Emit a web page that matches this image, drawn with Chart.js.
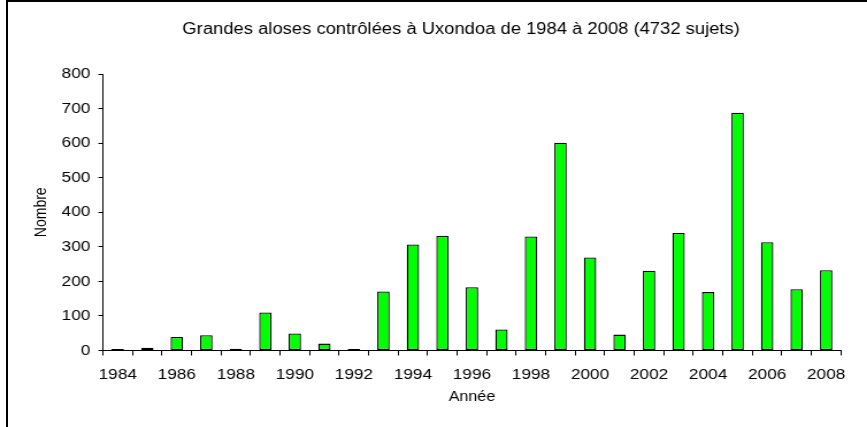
<!DOCTYPE html>
<html>
<head>
<meta charset="utf-8">
<script src="https://cdn.jsdelivr.net/npm/chart.js@4.4.1/dist/chart.umd.min.js"></script>
<style>
  html, body { margin: 0; padding: 0; background: #fff; overflow: hidden; }
  #cadre { position: absolute; left: 6px; top: 0; width: 861px; height: 427px;
           border-left: 2px solid #000; border-top: 2px solid #000; box-sizing: border-box; }
  /* le graphique d'origine est étiré horizontalement */
  #zone { position: absolute; left: 0; top: 0; transform: scaleX(1.1499); transform-origin: 0 0; }
</style>
</head>
<body>
<div id="cadre"></div>
<div id="zone"><canvas id="graphique" width="754" height="427"></canvas></div>
<script>
// données
const TITRE = 'Grandes aloses contrôlées à Uxondoa de 1984 à 2008 (4732 sujets)';
const annees = ['1984', '1985', '1986', '1987', '1988', '1989', '1990', '1991', '1992',
  '1993', '1994', '1995', '1996', '1997', '1998', '1999', '2000', '2001', '2002',
  '2003', '2004', '2005', '2006', '2007', '2008'];
const effectifs = [4, 8, 39, 44, 5, 110, 49, 20, 4, 171, 307, 332, 183, 61, 330, 601,
  269, 46, 231, 340, 169, 688, 313, 177, 232];
const graduationsY = [0, 100, 200, 300, 400, 500, 600, 700, 800];

const POLICE = '"Liberation Sans", Arial, sans-serif';

// titre dessiné à la main (centré comme dans l'original)
const titrePlugin = {
    id: 'titre',
    afterDraw(chart) {
        const ctx = chart.ctx;
        ctx.save();
        ctx.font = '16px ' + POLICE;
        ctx.fillStyle = '#000';
        ctx.textAlign = 'center';
        ctx.textBaseline = 'middle';
        ctx.fillText(TITRE, 401, 30);
        ctx.restore();
    }
};

const ctx = document.getElementById('graphique').getContext('2d');
new Chart(ctx, {
    type: 'bar',
    data: {
        labels: annees,
        datasets: [{
            label: 'Nombre',
            data: effectifs,
            backgroundColor: '#00ff00',
            borderColor: '#000',
            borderWidth: 1.3,
            borderSkipped: false,
            categoryPercentage: 1,
            barPercentage: 0.42
        }]
    },
    options: {
        responsive: false,
        animation: false,
        layout: { padding: { left: 24, right: 22.7, top: 74, bottom: 0 } },
        plugins: {
            legend: { display: false },
            tooltip: { enabled: false },
            title: { display: false }
        },
        scales: {
            x: {
                grid: { offset: true, drawOnChartArea: false, color: '#000', tickLength: 5 },
                border: { display: true, color: '#000', width: 1 },
                ticks: {
                    autoSkip: false, maxRotation: 0, padding: 10, color: '#000',
                    font: { family: POLICE, size: 15 },
                    callback: (v, i) => (i % 2 === 0 ? annees[i] : '')
                },
                title: {
                    display: true, text: 'Année', color: '#000',
                    font: { family: POLICE, size: 14 },
                    padding: { top: 0, bottom: 21 }
                },
                afterFit: s => { s.height = 76.5; }
            },
            y: {
                min: graduationsY[0],
                max: graduationsY[graduationsY.length - 1],
                grid: { drawOnChartArea: false, color: '#000', tickLength: 4 },
                border: { display: true, color: '#000', width: 1 },
                ticks: {
                    stepSize: graduationsY[1] - graduationsY[0], padding: 7, color: '#000',
                    font: { family: POLICE, size: 15 }
                },
                title: {
                    display: true, text: 'Nombre', color: '#000',
                    font: { family: POLICE, size: 14 },
                    padding: { top: 3.3, bottom: 0 }
                },
                afterFit: s => { s.width = 65.57; }
            }
        }
    },
    plugins: [titrePlugin]
});
</script>
</body>
</html>
